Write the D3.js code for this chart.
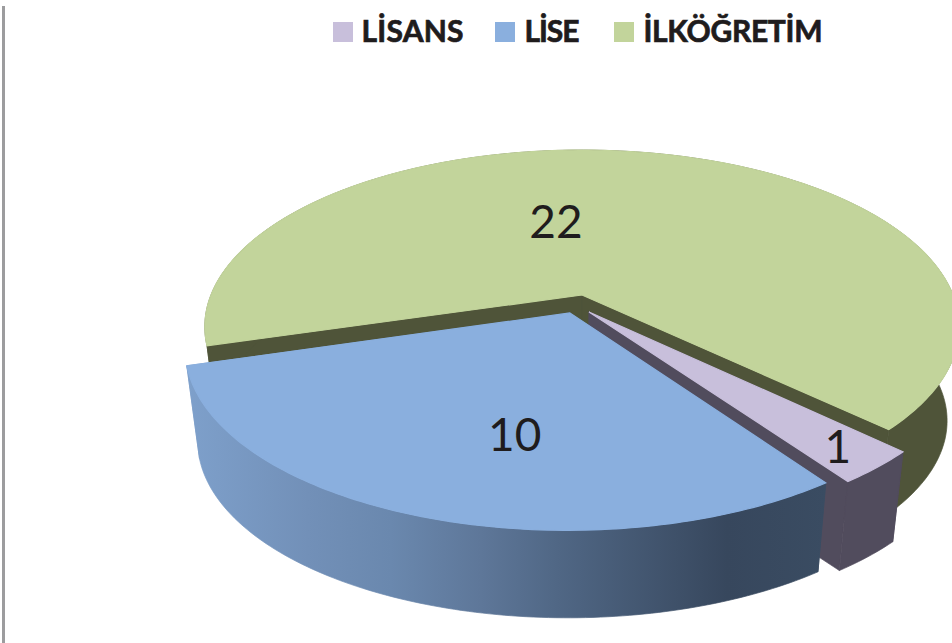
<!DOCTYPE html>
<html>
<head>
<meta charset="utf-8">
<script src="https://cdn.jsdelivr.net/npm/d3@7"></script>
<style>
  html, body { margin: 0; padding: 0; background: #fff; }
  svg { display: block; }
  text { font-family: Lato, "Open Sans", sans-serif; fill: #1f1c1d; }
</style>
</head>
<body>
<svg width="952" height="643"></svg>
<script>
// Data
var categories = ["LİSANS", "LİSE", "İLKÖĞRETİM"];
var values = [1, 10, 22];

// Colors
var topColors = ["#c8bfdb", "#8aafde", "#c2d49b"];
var sideColors = ["#514c5d", "url(#liseSide)", "#4f5439"];

// Legend layout
var legendSwatchX = [333, 495, 614];
var legendTextX = [361, 524, 643];
var legendTextLength = [102, 55, 179];

var svg = d3.select("svg"),
  width = +svg.attr("width"),
  height = +svg.attr("height");

// Pie seen in perspective: the center is where the slices would meet
var center = [582, 295],
  radiusX = 371,
  radiusY = 171,
  persp = 0.18,
  bottomShrink = 0.968,
  depth = 95;

// how far each slice is pulled out, in units of the radius
var explode = [[0.0185, 0.0975], [-0.032, 0.103], [0, 0]];

// where the value labels sit, same units
var labelSpot = [[0.595, 0.763], [-0.158, 0.71], [-0.076, -0.468]];

// (u, v) on the pie plane to screen, z = 0 top face, z = 1 bottom face
function project(u, v, z) {
  var k = 1 / (1 - persp * v),
    s = z ? bottomShrink : 1;
  return [
    center[0] + radiusX * u * k * s,
    center[1] + radiusY * v * k * s + (z ? depth : 0)
  ];
}

var pie = d3.pie()
  .sort(null)
  .startAngle(133.6 * Math.PI / 180)
  .endAngle((133.6 + 360) * Math.PI / 180);

var arcs = pie(values);

var line = d3.line();

// rim point of slice i, d3 angle (0 at twelve o'clock, clockwise)
function rim(i, a, z) {
  return project(explode[i][0] + Math.sin(a), explode[i][1] - Math.cos(a), z);
}

function rimPoints(i, d, z) {
  var n = Math.max(2, Math.ceil((d.endAngle - d.startAngle) * 60));
  return d3.range(n + 1).map(function(j) {
    return rim(i, d.startAngle + (d.endAngle - d.startAngle) * j / n, z);
  });
}

// Gradient on the side of the big blue slice
var grad = svg.append("defs")
  .append("linearGradient")
  .attr("id", "liseSide")
  .attr("gradientUnits", "userSpaceOnUse")
  .attr("x1", 186).attr("x2", 826)
  .attr("y1", 0).attr("y2", 0);
grad.selectAll("stop")
  .data([[0, "#7ea0cb"], [0.19, "#7290b8"], [0.32, "#6a88ae"], [0.46, "#5e7799"],
    [0.58, "#506785"], [0.845, "#37475d"], [1, "#3a4c62"]])
  .enter()
  .append("stop")
  .attr("offset", function(d) { return d[0]; })
  .attr("stop-color", function(d) { return d[1]; });

// Gray rule on the left
svg.append("rect")
  .attr("x", 2).attr("y", 6)
  .attr("width", 3).attr("height", height - 6)
  .attr("fill", "#9c9c9e");

// Slices, back one first: green, lilac, blue
var order = [2, 0, 1];

order.forEach(function(i) {
  var d = arcs[i],
    g = svg.append("g").attr("class", "slice"),
    apexTop = project(explode[i][0], explode[i][1], 0),
    apexBottom = project(explode[i][0], explode[i][1], 1);

  // two cut faces
  [d.startAngle, d.endAngle].forEach(function(a) {
    g.append("path")
      .attr("d", line([apexTop, rim(i, a, 0), rim(i, a, 1), apexBottom]) + "Z")
      .attr("fill", sideColors[i])
      .attr("stroke", sideColors[i])
      .attr("stroke-width", 0.7);
  });

  // outer wall
  var topRim = rimPoints(i, d, 0),
    bottomRim = rimPoints(i, d, 1).reverse();
  g.append("path")
    .attr("d", line(topRim.concat(bottomRim)) + "Z")
    .attr("fill", sideColors[i])
    .attr("stroke", sideColors[i])
    .attr("stroke-width", 0.7);

  // top face, its own stroke hides the wall's stroke along the back rim
  g.append("path")
    .attr("d", line([apexTop].concat(topRim)) + "Z")
    .attr("fill", topColors[i])
    .attr("stroke", topColors[i])
    .attr("stroke-width", 1.2);
});

// Value labels
svg.selectAll(".value")
  .data(values)
  .enter()
  .append("text")
  .attr("class", "value")
  .attr("x", function(d, i) { return project(labelSpot[i][0], labelSpot[i][1], 0)[0]; })
  .attr("y", function(d, i) { return project(labelSpot[i][0], labelSpot[i][1], 0)[1]; })
  .attr("dy", "0.36em")
  .attr("text-anchor", "middle")
  .attr("font-size", 46)
  .text(function(d) { return d; });

// Legend
svg.selectAll(".swatch")
  .data(categories)
  .enter()
  .append("rect")
  .attr("class", "swatch")
  .attr("x", function(d, i) { return legendSwatchX[i]; })
  .attr("y", 22)
  .attr("width", 20)
  .attr("height", 20)
  .attr("fill", function(d, i) { return topColors[i]; });

svg.selectAll(".legendText")
  .data(categories)
  .enter()
  .append("text")
  .attr("class", "legendText")
  .attr("x", function(d, i) { return legendTextX[i] + 0.5; })
  .attr("y", 42)
  .attr("font-size", 30)
  .attr("font-weight", 700)
  .attr("stroke", "#1f1c1d")
  .attr("stroke-width", 0.7)
  .attr("textLength", function(d, i) { return legendTextLength[i]; })
  .text(function(d) { return d; });
</script>
</body>
</html>
